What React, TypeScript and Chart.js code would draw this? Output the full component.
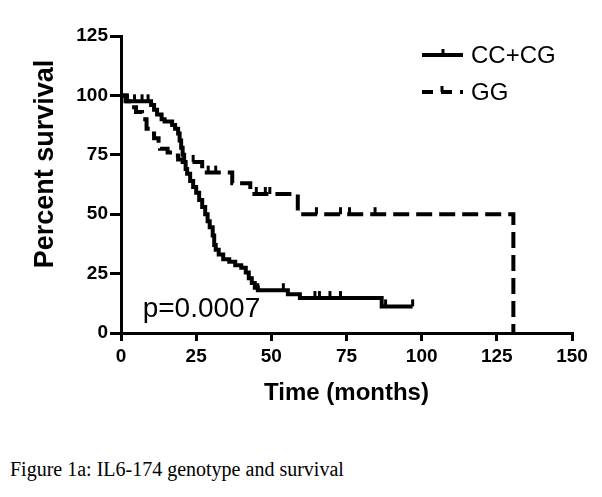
import React, { useEffect, useRef } from 'react';
import { Chart, registerables } from 'chart.js';

Chart.register(...registerables);

// ---------- data ----------
const seriesNames = ['CC+CG', 'GG'];

// CC+CG Kaplan-Meier steps (months, percent survival)
const ccTimes = [0, 1.5, 10, 11, 12, 13.5, 14.5, 17, 18, 19, 19.5, 20, 20.5, 21, 21.5, 22, 23, 24, 25, 26, 27, 28, 28.8, 29.5, 30.5, 31, 31.5, 32.5, 34, 36, 38, 40, 41.5, 42.5, 43.5, 44.5, 45.5, 55.5, 59.5, 86.7, 97];
const ccSurvival = [100, 97.5, 96, 94, 92, 90, 89, 87.5, 86, 84, 81, 78, 75, 72, 69, 67, 64, 61.5, 59, 56, 53, 50, 47, 44.5, 41, 37, 35, 33, 31, 30, 28.5, 27.5, 25.5, 23, 21, 19, 18, 16.3, 14.7, 11.2, 11.2];
const ccCensorTimes = [4.5, 7, 9, 45.5, 54, 64.5, 66, 69.5, 73, 88, 97];
const ccCensorSurvival = [97.5, 97.5, 97.5, 18, 18, 14.7, 14.7, 14.7, 14.7, 11.2, 11.2];

// GG Kaplan-Meier steps
const ggTimes = [0, 2, 3.5, 5, 7, 8.5, 10, 11, 12.5, 13, 15.5, 17, 19, 20.5, 27, 37, 43, 58.8, 130.5];
const ggSurvival = [100, 97.5, 95, 93, 90, 86, 84, 82, 79, 77.5, 76, 74.7, 73, 72, 67.5, 63, 58.5, 50, 0];
const ggCensorTimes = [24, 29, 31.5, 45, 48, 49.5, 65, 73, 76, 84.5];
const ggCensorSurvival = [72, 67.5, 67.5, 58.5, 58.5, 58.5, 50, 50, 50, 50];

const xTicks = [0, 25, 50, 75, 100, 125, 150];
const yTicks = [0, 25, 50, 75, 100, 125];
const xTitle = 'Time (months)';
const yTitle = 'Percent survival';
const pValueText = 'p=0.0007';
const captionText = 'Figure 1a: IL6-174 genotype and survival';

const SANS = '"Liberation Sans", Arial, Helvetica, sans-serif';

const toPoints = (xs: number[], ys: number[]) => xs.map((x, i) => ({ x, y: ys[i] }));

const overlayPlugin = {
  id: 'kmOverlay',
  afterDatasetsDraw(chart: any) {
    const { ctx, scales } = chart;
    const xs = scales.x;
    const ys = scales.y;
    ctx.save();
    // censor ticks
    ctx.strokeStyle = '#000';
    ctx.lineWidth = 3;
    ctx.setLineDash([]);
    const drawCensor = (ts: number[], ss: number[]) => {
      ts.forEach((t, i) => {
        const px = xs.getPixelForValue(t);
        const py = ys.getPixelForValue(ss[i]);
        ctx.beginPath();
        ctx.moveTo(px, py);
        ctx.lineTo(px, py - 7);
        ctx.stroke();
      });
    };
    drawCensor(ccCensorTimes, ccCensorSurvival);
    drawCensor(ggCensorTimes, ggCensorSurvival);

    // p value
    ctx.fillStyle = '#000';
    ctx.font = `28px ${SANS}`;
    ctx.textAlign = 'left';
    ctx.textBaseline = 'alphabetic';
    ctx.fillText(pValueText, xs.getPixelForValue(7.2), ys.getPixelForValue(6.7));

    // y title
    ctx.save();
    ctx.translate(46, 164);
    ctx.rotate(-Math.PI / 2);
    ctx.font = `bold 27px ${SANS}`;
    ctx.textAlign = 'center';
    ctx.textBaseline = 'middle';
    ctx.fillText(yTitle, 0, 0);
    ctx.restore();

    // legend
    const lx0 = 422, lx1 = 463, ly1 = 55, ly2 = 92;
    ctx.lineWidth = 4;
    ctx.beginPath();
    ctx.moveTo(lx0, ly1);
    ctx.lineTo(lx1, ly1);
    ctx.stroke();
    ctx.lineWidth = 3;
    ctx.beginPath();
    ctx.moveTo(443, ly1);
    ctx.lineTo(443, ly1 - 6);
    ctx.stroke();

    ctx.lineWidth = 4;
    ctx.setLineDash([11, 8]);
    ctx.beginPath();
    ctx.moveTo(lx0, ly2);
    ctx.lineTo(lx1, ly2);
    ctx.stroke();
    ctx.setLineDash([]);
    ctx.lineWidth = 3;
    ctx.beginPath();
    ctx.moveTo(442, ly2);
    ctx.lineTo(442, ly2 - 6);
    ctx.stroke();

    ctx.font = `24px ${SANS}`;
    ctx.textAlign = 'left';
    ctx.textBaseline = 'middle';
    ctx.fillText(seriesNames[0], 471, ly1 + 1);
    ctx.fillText(seriesNames[1], 471, ly2 + 1);
    ctx.restore();
  },
};

export default function App() {
  const ref = useRef<HTMLCanvasElement | null>(null);

  useEffect(() => {
    if (!ref.current) return;
    const chart = new Chart(ref.current, {
      type: 'line',
      data: {
        datasets: [
          {
            label: seriesNames[0],
            data: toPoints(ccTimes, ccSurvival),
            stepped: 'before',
            borderColor: '#000',
            borderWidth: 4,
            pointRadius: 0,
            fill: false,
            clip: 6,
          },
          {
            label: seriesNames[1],
            data: toPoints(ggTimes, ggSurvival),
            stepped: 'before',
            borderColor: '#000',
            borderWidth: 4,
            borderDash: [16, 7],
            borderCapStyle: 'butt',
            pointRadius: 0,
            fill: false,
            clip: 6,
          },
        ],
      },
      options: {
        animation: false,
        responsive: false,
        devicePixelRatio: 1,
        layout: { padding: { top: 36, right: 30, left: 0, bottom: 0 } },
        plugins: { legend: { display: false }, tooltip: { enabled: false } },
        scales: {
          x: {
            type: 'linear',
            min: 0,
            max: 150,
            afterBuildTicks: (s: any) => { s.ticks = xTicks.map((v) => ({ value: v })); },
            afterFit: (s: any) => { s.height = 97; },
            ticks: { color: '#000', font: { family: SANS, size: 19, weight: 'bold' }, padding: 4, maxRotation: 0 },
            grid: { drawOnChartArea: false, drawTicks: true, tickLength: 8, lineWidth: 3, color: '#000' },
            border: { display: true, color: '#000', width: 3 },
            title: { display: true, text: xTitle, color: '#000', font: { family: SANS, size: 24, weight: 'bold' }, padding: { top: 0, bottom: 22 } },
          },
          y: {
            type: 'linear',
            min: 0,
            max: 125,
            afterBuildTicks: (s: any) => { s.ticks = yTicks.map((v) => ({ value: v })); },
            afterFit: (s: any) => { s.width = 121; },
            ticks: { color: '#000', font: { family: SANS, size: 19, weight: 'bold' }, padding: 2 },
            grid: { drawOnChartArea: false, drawTicks: true, tickLength: 11, lineWidth: 3, color: '#000' },
            border: { display: true, color: '#000', width: 3 },
          },
        },
      },
      plugins: [overlayPlugin],
    } as any);
    return () => chart.destroy();
  }, []);

  return (
    <div style={{ position: 'absolute', left: 0, top: 0, width: 602, height: 497, background: '#fff', overflow: 'hidden' }}>
      <canvas ref={ref} width={602} height={430} style={{ position: 'absolute', left: 0, top: 0, width: 602, height: 430 }} />
      <div style={{ position: 'absolute', left: 10, top: 459, fontFamily: '"Liberation Serif", "Times New Roman", serif', fontSize: 20, lineHeight: '20px', color: '#000', whiteSpace: 'nowrap' }}>
        {captionText}
      </div>
    </div>
  );
}
